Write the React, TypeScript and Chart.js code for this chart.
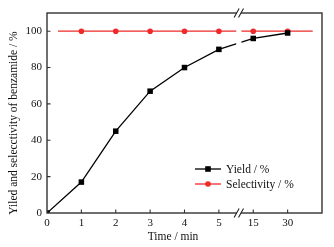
import React, { useEffect, useRef } from 'react';
import { Chart, registerables } from 'chart.js';

Chart.register(...registerables);

// Category positions (index units) and their tick labels
const timeLabels = ['0', '1', '2', '3', '4', '5', '15', '30'];
const timeIndex = [0, 1, 2, 3, 4, 5, 6, 7];
const yieldValues = [0, 17, 45, 67, 80, 90, 96, 99];
// selectivity line runs a little beyond the first/last markers
const selectivityIndex = [0.32, 1, 2, 3, 4, 5, 6, 7, 7.73];
const selectivityValues = [100, 100, 100, 100, 100, 100, 100, 100, 100];
const selectivityMarker = [false, true, true, true, true, true, true, true, false];
const yTicks = [0, 20, 40, 60, 80, 100];
const breakIndex = 5.58;

const FONT = "'Liberation Serif', 'Times New Roman', serif";
const RED = '#ee2a2a';

const decorPlugin = {
  id: 'decor',
  afterDatasetsDraw(chart: any) {
    const { ctx, chartArea, scales } = chart;
    const { top, bottom } = chartArea;
    const bx = scales.x.getPixelForValue(breakIndex);
    ctx.save();
    ctx.fillStyle = '#ffffff';
    ctx.fillRect(bx - 2.6, top + 1, 5.2, bottom - top - 2);
    ctx.restore();
  },
  afterDraw(chart: any) {
    const { ctx, chartArea, scales } = chart;
    const { left, right, top, bottom } = chartArea;
    const xs = scales.x;
    const ys = scales.y;
    ctx.save();
    // frame
    ctx.strokeStyle = '#333333';
    ctx.lineWidth = 1.4;
    ctx.strokeRect(left, top, right - left, bottom - top);
    // inward ticks
    ctx.lineWidth = 1.1;
    ctx.beginPath();
    timeIndex.forEach((v) => {
      if (v === 0) return;
      const px = xs.getPixelForValue(v);
      ctx.moveTo(px, bottom);
      ctx.lineTo(px, bottom - 3.5);
    });
    yTicks.forEach((v) => {
      if (v === 0) return;
      const py = ys.getPixelForValue(v);
      ctx.moveTo(left, py);
      ctx.lineTo(left + 3.5, py);
    });
    ctx.stroke();
    // break marks
    const bx = xs.getPixelForValue(breakIndex);
    [top, bottom].forEach((yy) => {
      ctx.fillStyle = '#ffffff';
      ctx.fillRect(bx - 2, yy - 1.5, 4, 3);
      ctx.strokeStyle = '#222222';
      ctx.lineWidth = 1.1;
      ctx.beginPath();
      [-2.2, 2.2].forEach((o) => {
        ctx.moveTo(bx + o - 2.5, yy + 4.5);
        ctx.lineTo(bx + o + 2.5, yy - 4.5);
      });
      ctx.stroke();
    });
    // legend
    const lx = left + 148;
    const rows = [
      { label: 'Yield / %', color: '#000000', style: 'rect', y: top + 156 },
      { label: 'Selectivity / %', color: RED, style: 'circle', y: top + 171 },
    ];
    rows.forEach((r) => {
      ctx.strokeStyle = r.color;
      ctx.lineWidth = 1.3;
      ctx.beginPath();
      ctx.moveTo(lx, r.y);
      ctx.lineTo(lx + 26, r.y);
      ctx.stroke();
      ctx.fillStyle = r.color;
      if (r.style === 'rect') {
        ctx.fillRect(lx + 13 - 2.8, r.y - 2.8, 5.6, 5.6);
      } else {
        ctx.beginPath();
        ctx.arc(lx + 13, r.y, 2.8, 0, Math.PI * 2);
        ctx.fill();
      }
      ctx.fillStyle = '#111111';
      ctx.font = `11.5px ${FONT}`;
      ctx.textAlign = 'left';
      ctx.textBaseline = 'middle';
      ctx.fillText(r.label, lx + 31, r.y + 0.5);
    });
    // axis titles
    ctx.fillStyle = '#111111';
    ctx.font = `11.5px ${FONT}`;
    ctx.textAlign = 'center';
    ctx.textBaseline = 'middle';
    ctx.fillText('Time / min', 173, 237);
    ctx.translate(14, 123);
    ctx.rotate(-Math.PI / 2);
    ctx.fillText('Yiled and selecctivity of benzamide / %', 0, 0);
    ctx.restore();
  },
};

export default function App() {
  const ref = useRef<HTMLCanvasElement | null>(null);
  useEffect(() => {
    document.body.style.margin = '0';
    const canvas = ref.current;
    if (!canvas) return;
    const chart = new Chart(canvas, {
      type: 'line',
      data: {
        datasets: [
          {
            label: 'Yield / %',
            data: timeIndex.map((x, i) => ({ x, y: yieldValues[i] })),
            borderColor: '#000000',
            backgroundColor: '#000000',
            borderWidth: 1.3,
            pointStyle: 'rect',
            pointRadius: 3.9,
            pointBorderWidth: 0,
            tension: 0,
          },
          {
            label: 'Selectivity / %',
            data: selectivityIndex.map((x, i) => ({ x, y: selectivityValues[i] })),
            borderColor: RED,
            backgroundColor: RED,
            borderWidth: 1.3,
            pointStyle: 'circle',
            pointRadius: selectivityMarker.map((m) => (m ? 2.8 : 0)),
            pointBorderWidth: 0,
            tension: 0,
          },
        ],
      },
      options: {
        responsive: false,
        animation: false,
        layout: { padding: { top: 13, right: 12, left: 0, bottom: 0 } },
        plugins: { legend: { display: false }, tooltip: { enabled: false } },
        scales: {
          x: {
            type: 'linear',
            min: 0,
            max: 8,
            grid: { display: false, drawTicks: false },
            border: { display: false },
            afterFit: (s: any) => {
              s.height = 34;
            },
            afterBuildTicks: (s: any) => {
              s.ticks = timeIndex.map((v) => ({ value: v }));
            },
            ticks: {
              autoSkip: false,
              maxRotation: 0,
              padding: 4,
              color: '#111111',
              font: { family: FONT, size: 11 },
              callback: (v: any) => timeLabels[timeIndex.indexOf(Number(v))] ?? '',
            },
          },
          y: {
            type: 'linear',
            min: 0,
            max: 110,
            grid: { display: false, drawTicks: false },
            border: { display: false },
            afterFit: (s: any) => {
              s.width = 47;
            },
            afterBuildTicks: (s: any) => {
              s.ticks = yTicks.map((v) => ({ value: v }));
            },
            ticks: {
              padding: 5,
              color: '#111111',
              font: { family: FONT, size: 11 },
            },
          },
        },
      },
      plugins: [decorPlugin],
    });
    return () => chart.destroy();
  }, []);
  return <canvas ref={ref} width={334} height={247} style={{ display: 'block' }} />;
}
